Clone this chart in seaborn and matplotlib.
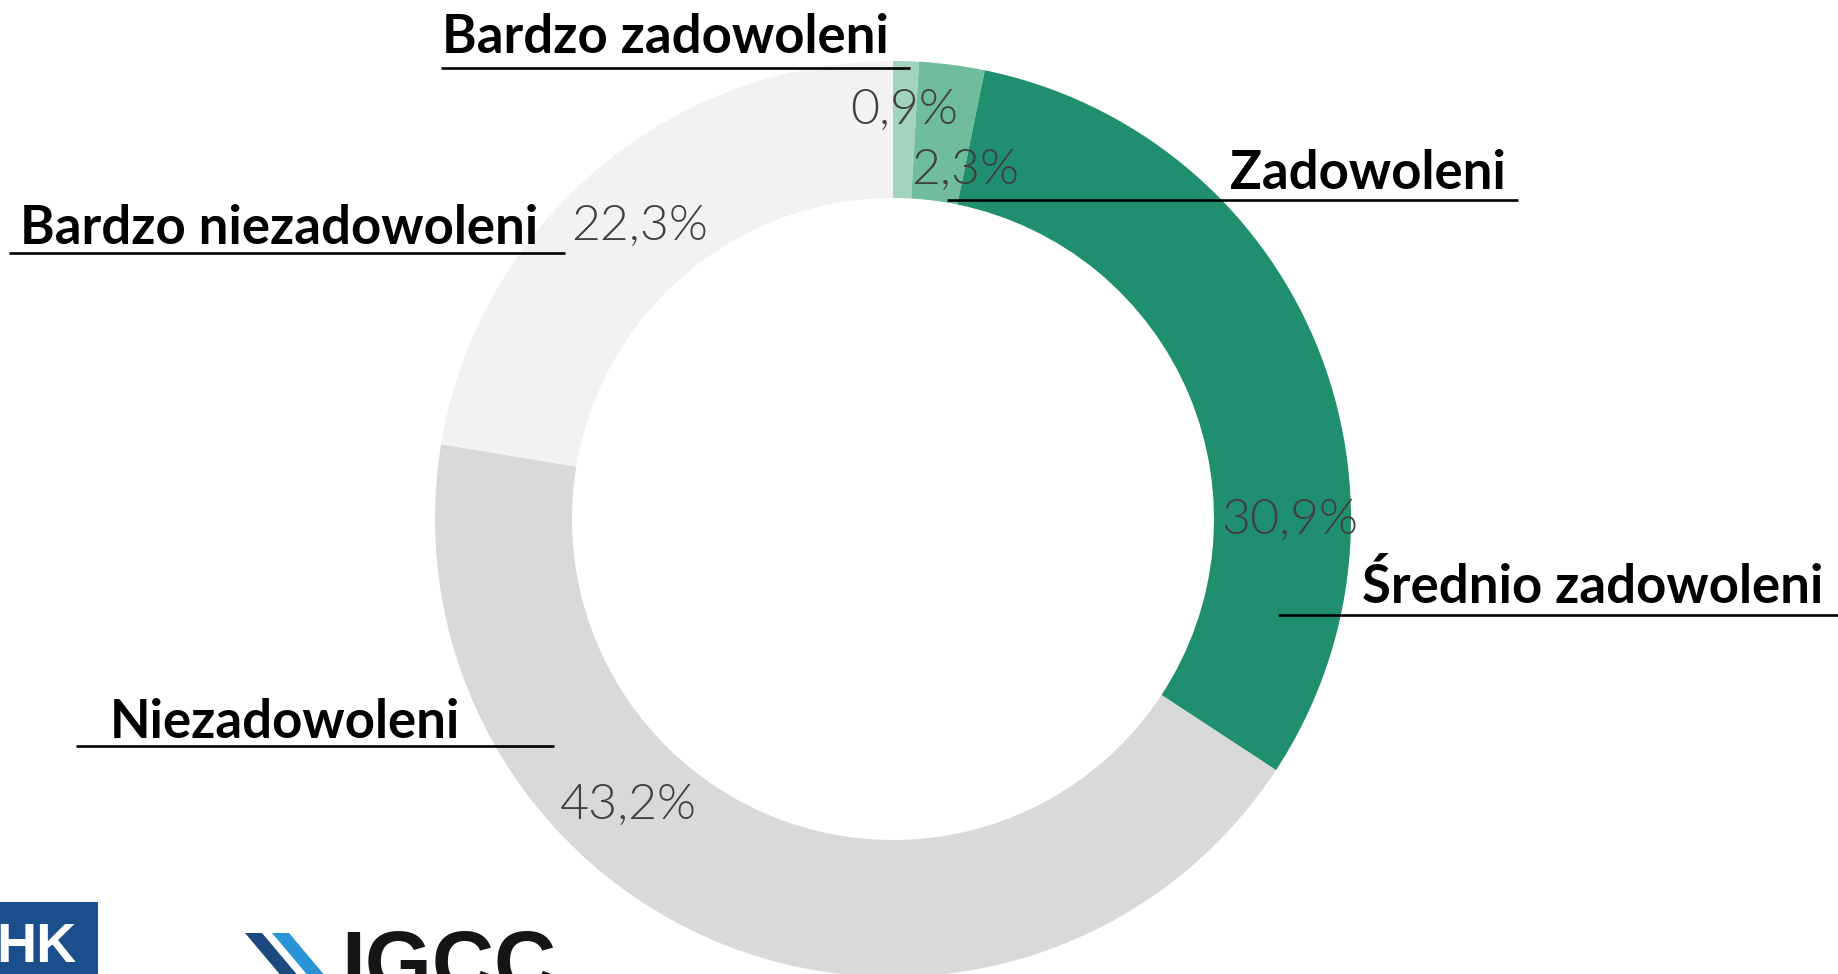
import matplotlib
matplotlib.use("Agg")
import matplotlib.pyplot as plt
import seaborn as sns
from matplotlib.patches import Rectangle, Polygon

# data
categories = ["Bardzo zadowoleni", "Zadowoleni", "Średnio zadowoleni",
              "Niezadowoleni", "Bardzo niezadowoleni"]
shares = [0.9, 2.3, 30.9, 43.2, 22.3]
pct_labels = ["0,9%", "2,3%", "30,9%", "43,2%", "22,3%"]
colors = ["#a2d3bc", "#6fbd9c", "#208f6e", "#d9d9d9", "#f2f2f2"]

W, H = 1838, 974
sns.set_theme(style="white")
plt.rcParams["font.family"] = ["Lato", "DejaVu Sans"]

fig = plt.figure(figsize=(W / 100, H / 100), dpi=100)
ax = fig.add_axes([0, 0, 1, 1])

def yt(y):
    # pixel rows are measured from the top of the picture
    return H - y

ax.pie(shares, colors=colors, startangle=90, counterclock=False,
       center=(893, yt(519)), radius=458,
       wedgeprops=dict(width=137, linewidth=0))
ax.set_xlim(0, W)
ax.set_ylim(0, H)
ax.set_aspect("equal", adjustable="datalim")
ax.axis("off")

# category labels with underline: (text x, baseline y, line x0, line x1, line y)
label_pos = [
    (442, 53, 441, 910, 68),
    (1230, 189, 947, 1518, 200),
    (1362, 603, 1278, 1838, 615),
    (110, 738, 76, 554, 746),
    (20, 244, 9, 565, 253),
]
for name, (tx, ty, x0, x1, ly) in zip(categories, label_pos):
    ax.text(tx, yt(ty), name, fontsize=38, fontweight="bold", color="black",
            ha="left", va="baseline")
    ax.plot([x0, x1], [yt(ly), yt(ly)], color="black", lw=1.9,
            solid_capstyle="butt")

# percentage labels (centres)
pct_pos = [(904, 110), (965, 170), (1290, 520), (628, 805), (640, 226)]
for lab, (px, py) in zip(pct_labels, pct_pos):
    ax.text(px, yt(py), lab, fontsize=36, fontweight=300, color="#404040",
            ha="center", va="center")

# logos at the bottom left
logo_font = ["Liberation Sans", "DejaVu Sans"]
ax.add_patch(Rectangle((0, 0), 98, yt(902), color="#1a4f8b", lw=0))
ax.text(-4, yt(962), "HK", fontsize=40, fontweight="bold", color="white",
        family=logo_font, ha="left", va="baseline")
ax.add_patch(Polygon([(245, yt(933)), (262, yt(933)), (310, yt(990)), (293, yt(990))],
                     closed=True, color="#1d4a7e", lw=0))
ax.add_patch(Polygon([(272, yt(933)), (289, yt(933)), (337, yt(990)), (320, yt(990))],
                     closed=True, color="#2b93d8", lw=0))
ax.text(341, yt(991), "IGCC", fontsize=62, fontweight="bold", color="#151515",
        family=logo_font, ha="left", va="baseline")

fig.savefig("out.png", dpi=100, facecolor="white")
